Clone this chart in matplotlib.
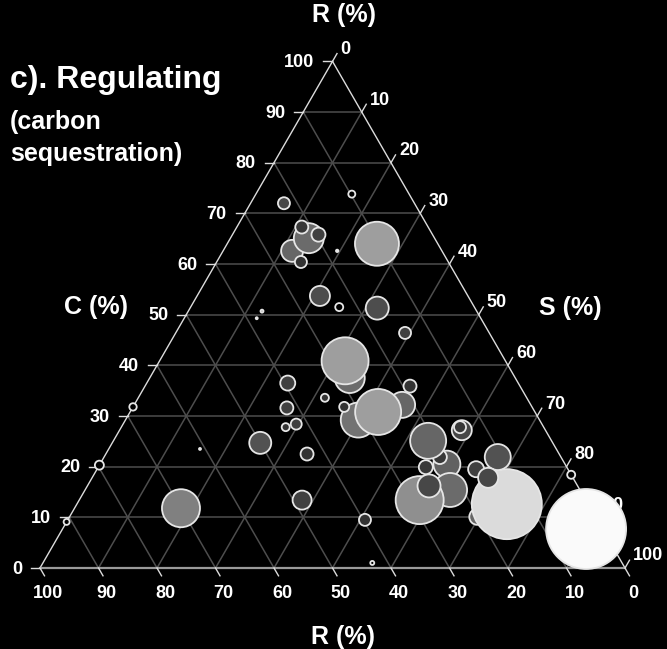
"""Ternary bubble chart: regulating service (carbon sequestration)."""

import matplotlib
import numpy as np

matplotlib.use("Agg")
import matplotlib.pyplot as plt

plt.rcParams["font.family"] = ["Liberation Sans", "DejaVu Sans"]
plt.rcParams["font.weight"] = "bold"

# composition of each site in percent (R + C + S = 100), listed in drawing order
R = [22.3, 25.6, 21.5, 21.6, 19.5, 25.2, 9.8, 10.4, 17.9, 25.3, 23.1, 16.7, 14.4,
     36.7, 38.3, 68.2, 79.7, 90.9, 70.0, 60.9, 50.0, 39.4, 42.0, 44.1, 42.0, 43.1,
     48.5, 39.7, 42.7, 28.3, 27.4, 31.0, 22.0, 26.8, 32.1, 18.8, 34.5, 14.3, 14.3,
     20.2, 20.7, 21.1, 22.2, 28.4, 25.4, 24.1, 20.2, 13.9, 10.8, 15.7, 14.5, 0.0, 2.8]
C = [72.0, 62.6, 65.1, 67.3, 65.8, 60.4, 73.8, 64.0, 62.6, 53.7, 51.5, 51.3, 46.4,
     50.7, 49.3, 31.8, 20.3, 9.1, 11.8, 23.5, 24.7, 36.5, 31.6, 27.8, 28.4, 22.5,
     13.4, 9.5, 1.0, 37.5, 40.9, 29.2, 32.2, 30.8, 31.8, 35.9, 33.6, 27.2, 27.8,
     20.5, 21.9, 25.1, 15.4, 13.4, 16.2, 19.9, 10.1, 12.6, 21.9, 19.5, 17.8, 18.4, 7.7]
S = [5.7, 11.8, 13.4, 11.1, 14.7, 14.4, 16.4, 25.6, 19.5, 21.0, 25.4, 32.0, 39.2,
     12.6, 12.4, 0.0, 0.0, 0.0, 18.2, 15.6, 25.3, 24.1, 26.4, 28.1, 29.6, 34.4,
     38.1, 50.8, 56.3, 34.2, 31.7, 39.8, 45.8, 42.4, 36.1, 45.3, 31.9, 58.5, 57.9,
     59.3, 57.4, 53.8, 62.4, 58.2, 58.4, 56.0, 69.7, 73.5, 67.3, 64.8, 67.7, 81.6, 89.5]
# bubble magnitude and grey level of each site
magnitude = [6, 11, 15, 6.5, 7, 6, 3.5, 22, 1.2, 10, 4, 11.5, 6,
             1.5, 1, 3.7, 4.5, 3, 19, 1, 11, 7.5, 6.5, 4, 5.5, 6.5,
             9.5, 6, 2, 15, 23.5, 17.5, 13, 23, 5, 6.5, 4, 10, 6,
             13.5, 7, 18, 17, 24, 11.5, 7, 8, 35, 13, 8, 10, 4, 40]
shade = [0.28, 0.40, 0.42, 0.22, 0.25, 0.20, 0.0, 0.62, 0.9, 0.30, 0.0, 0.30, 0.25,
         0.6, 0.8, 0.0, 0.0, 0.0, 0.50, 0.8, 0.32, 0.25, 0.25, 0.20, 0.25, 0.20,
         0.25, 0.20, 0.0, 0.42, 0.62, 0.45, 0.40, 0.62, 0.20, 0.20, 0.20, 0.28, 0.22,
         0.38, 0.22, 0.40, 0.42, 0.56, 0.28, 0.22, 0.40, 0.86, 0.32, 0.25, 0.28, 0.0, 0.98]

ticks = np.arange(0, 101, 10)
H = np.sqrt(3) / 2
PX = 5.85  # pixels per axis unit


def to_xy(c, s):
    c = np.asarray(c, dtype=float)
    s = np.asarray(s, dtype=float)
    return s + c / 2, c * H


fig = plt.figure(figsize=(6.67, 6.49), dpi=100, facecolor="black")
ax = fig.add_axes([0, 0, 1, 1])
ax.set_facecolor("black")
ax.set_xlim(-40 / PX, 627 / PX)
ax.set_ylim(-81 / PX, 568 / PX)
ax.axis("off")

# grid lines for C, S and R
grid = dict(color="#4d4d4d", lw=1.1, zorder=1)
for v in ticks[1:-1]:
    ax.plot(*to_xy([v, v], [0, 100 - v]), **grid)
    ax.plot(*to_xy([0, 100 - v], [v, v]), **grid)
    ax.plot(*to_xy([0, 100 - v], [100 - v, 0]), **grid)

# triangle edges
ax.plot(*to_xy([0, 100], [0, 0]), color="#dcdcdc", lw=1.0, zorder=2)
ax.plot(*to_xy([100, 0], [0, 100]), color="#dcdcdc", lw=1.0, zorder=2)
ax.plot(*to_xy([0, 0], [0, 100]), color="#9a9a9a", lw=1.6, zorder=2)

txt = dict(color="white", fontsize=13, fontweight="bold", zorder=2)
tl = 9 / PX
for v in ticks:
    # C axis (left)
    x, y = to_xy(v, 0)
    ax.plot([x, x - tl], [y, y], color="#dcdcdc", lw=1.0, zorder=2)
    ax.text(x - 18 / PX, y - 1 / PX, f"{v}", ha="right", va="center", **txt)
    # R axis (bottom)
    x, y = to_xy(0, 100 - v)
    ax.plot([x, x + tl * 0.5], [y, y - tl * H], color="#dcdcdc", lw=1.0, zorder=2)
    ax.text(x + 8 / PX, y - 25 / PX, f"{v}", ha="center", va="center", **txt)
    # S axis (right)
    x, y = to_xy(100 - v, v)
    ax.plot([x, x + tl * 0.5], [y, y + tl * H], color="#dcdcdc", lw=1.0, zorder=2)
    ax.text(x + 8 / PX, y + 12 / PX, f"{v}", ha="left", va="center", **txt)

# bubbles
x, y = to_xy(C, S)
sizes = (2 * np.asarray(magnitude) * 72 / 100) ** 2
colors = [(g, g, g) for g in shade]
ax.scatter(x, y, s=sizes, c=colors, edgecolors="#e6e6e6", linewidths=1.3, zorder=3)

# titles
W, Hf = 667, 649
fig.text(10 / W, 1 - 88 / Hf, "c). Regulating", color="white", fontsize=23,
         fontweight="bold", va="baseline")
fig.text(10 / W, 1 - 129 / Hf, "(carbon", color="white", fontsize=18,
         fontweight="bold", va="baseline")
fig.text(10 / W, 1 - 161 / Hf, "sequestration)", color="white", fontsize=18,
         fontweight="bold", va="baseline")
lab = dict(color="white", fontsize=18, fontweight="bold", ha="center", va="baseline")
fig.text(344 / W, 1 - 22 / Hf, "R (%)", **lab)
fig.text(96 / W, 1 - 314 / Hf, "C (%)", **lab)
fig.text(570 / W, 1 - 315 / Hf, "S (%)", **lab)
fig.text(343 / W, 1 - 644 / Hf, "R (%)", **lab)

fig.savefig("out.png", dpi=100, facecolor="black")
plt.close(fig)
